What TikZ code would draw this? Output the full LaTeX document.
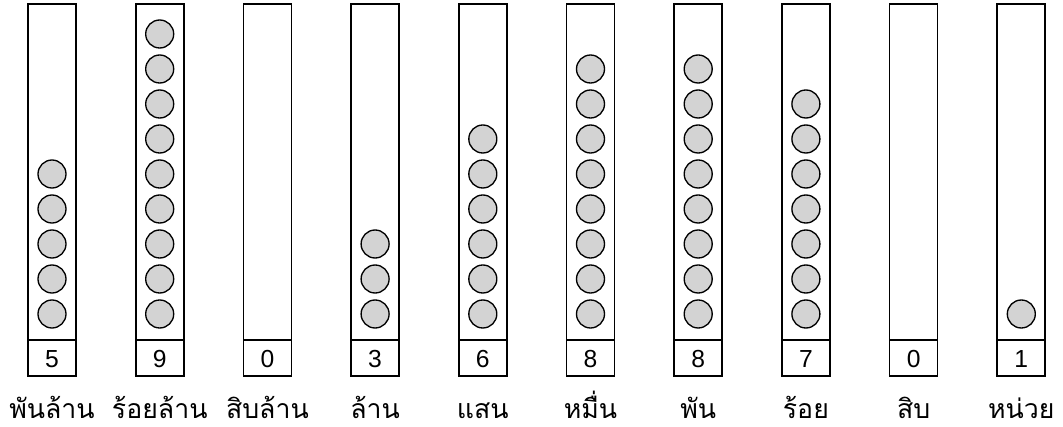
\documentclass[tikz,border=0pt]{standalone}
\usepackage{fontspec}
\setmainfont{Liberation Sans}
\newfontfamily\thaifont[Script=Thai]{Loma}
\definecolor{beadfill}{HTML}{D3D3D3}

\begin{document}
\begin{tikzpicture}[x=.75pt,y=-.75pt,
 rod/.style={draw=black,line width=1.3pt},
 bead/.style={circle,draw=black,fill=beadfill,line width=1pt,minimum size=21pt,inner sep=0pt},
 digit/.style={font=\fontsize{18.5}{20}\selectfont,anchor=center},
 place/.style={font=\thaifont\fontsize{20}{22}\selectfont,anchor=base}]
\useasboundingbox (0,0) rectangle (1063,427);
% columns: digit / place name
\foreach \d/\name [count=\i from 0] in {5/พันล้าน,9/ร้อยล้าน,0/สิบล้าน,3/ล้าน,6/แสน,8/หมื่น,8/พัน,7/ร้อย,0/สิบ,1/หน่วย}{
 \pgfmathsetmacro{\xl}{28+107.7*\i}
 \coordinate (top\i) at (\xl,4);
 \coordinate (mid\i) at (\xl+48,340);
 \coordinate (bot\i) at (\xl+48,376);
 \draw[rod] (top\i) rectangle (bot\i);
 \draw[rod] (\xl,340) -- (mid\i);
 \node[digit] (num\i) at (\xl+24,359) {\d};
 \node[place,inner sep=1pt] (lab\i) at (\xl+24,418) {\name};
 \ifnum\d>0
  \foreach \k in {1,...,\d}{
   \node[bead] (b\i-\k) at (\xl+24,349-35*\k) {};
  }
 \fi
}
\end{tikzpicture}
\end{document}
